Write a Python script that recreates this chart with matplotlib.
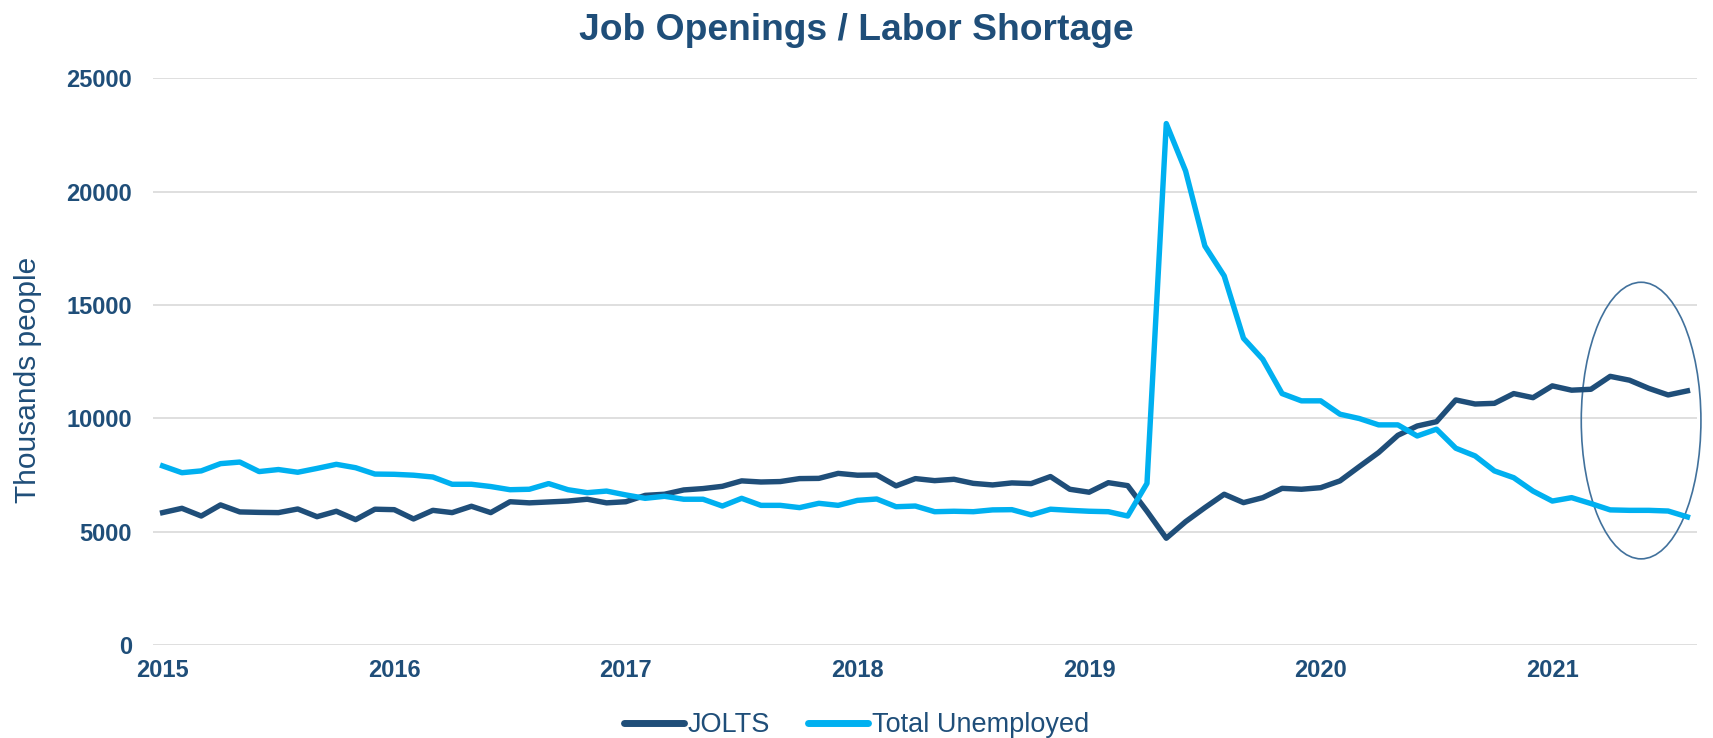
import matplotlib
matplotlib.use("Agg")
import matplotlib.pyplot as plt
from matplotlib.patches import Ellipse

plt.rcParams['font.family'] = ['Liberation Sans', 'DejaVu Sans']

navy = '#1F4E79'
cyan = '#00B0F0'

# monthly values, thousands of people
jolts = [5840, 6030, 5690, 6180, 5870, 5850, 5840, 6000, 5660, 5900,
         5530, 5990, 5970, 5560, 5940, 5840, 6120, 5840, 6320, 6270,
         6310, 6350, 6430, 6270, 6320, 6600, 6650, 6840, 6900, 7000,
         7240, 7190, 7210, 7340, 7350, 7570, 7490, 7500, 7020, 7340,
         7250, 7310, 7130, 7060, 7150, 7120, 7430, 6870, 6740, 7160,
         7030, 5900, 4710, 5440, 6060, 6650, 6280, 6500, 6910, 6870,
         6940, 7240, 7870, 8490, 9250, 9660, 9850, 10810, 10630, 10660,
         11090, 10910, 11430, 11240, 11280, 11850, 11680, 11320, 11030, 11210]

unemployed = [7900, 7600, 7680, 8000, 8070, 7650, 7740, 7620, 7790, 7970,
              7820, 7540, 7530, 7490, 7410, 7090, 7090, 6990, 6850, 6870,
              7120, 6850, 6720, 6790, 6620, 6470, 6560, 6430, 6430, 6130,
              6470, 6160, 6160, 6060, 6250, 6160, 6380, 6440, 6100, 6130,
              5880, 5900, 5880, 5960, 5970, 5740, 5990, 5940, 5900, 5880,
              5690, 7130, 23000, 20910, 17600, 16280, 13530, 12600, 11090, 10770,
              10770, 10180, 9990, 9710, 9710, 9220, 9520, 8680, 8340, 7680,
              7380, 6790, 6350, 6500, 6240, 5960, 5940, 5940, 5910, 5650]

year_labels = ['2015', '2016', '2017', '2018', '2019', '2020', '2021']

x = list(range(len(jolts)))

fig = plt.figure(figsize=(17.13, 7.38), dpi=100)
ax = fig.add_axes([0.0893, 0.126, 0.9014, 0.768])

ax.plot(x, jolts, color=navy, lw=3.9, label='JOLTS', solid_joinstyle='round')
ax.plot(x, unemployed, color=cyan, lw=3.9, label='Total Unemployed', solid_joinstyle='round')

ax.add_patch(Ellipse((76.6, 9900), width=6.2, height=12200, fill=False,
                     edgecolor='#41719C', lw=1.2, clip_on=False))

ax.set_xlim(-0.5, 79.5)
ax.set_ylim(0, 25000)
ax.set_yticks(range(0, 25001, 5000))
ax.set_xticks(range(0, 73, 12))
ax.set_xticklabels(year_labels)
ax.grid(axis='y', color='#D9D9D9', lw=1.2)
ax.set_axisbelow(True)
for s in ax.spines.values():
    s.set_visible(False)
ax.tick_params(length=0, labelsize=17, labelcolor=navy)
ax.tick_params(axis='y', pad=15)
ax.tick_params(axis='x', pad=10)
for lab in ax.get_xticklabels() + ax.get_yticklabels():
    lab.set_fontweight('bold')

ax.set_ylabel('Thousands people', fontsize=21.5, color=navy)
ax.yaxis.set_label_coords(-0.072, 0.468)
fig.suptitle('Job Openings / Labor Shortage', fontsize=26.8, fontweight='bold',
             color=navy, y=0.982)

leg = fig.legend(loc='center', bbox_to_anchor=(0.5, 0.017), ncol=2,
                 frameon=False, fontsize=19.5, handlelength=2.2, borderpad=0,
                 handletextpad=0.15, columnspacing=1.4)
for t in leg.get_texts():
    t.set_color(navy)
for h in leg.get_lines():
    h.set_linewidth(5)
    h.set_solid_capstyle('round')

fig.savefig('out.png', dpi=100)
